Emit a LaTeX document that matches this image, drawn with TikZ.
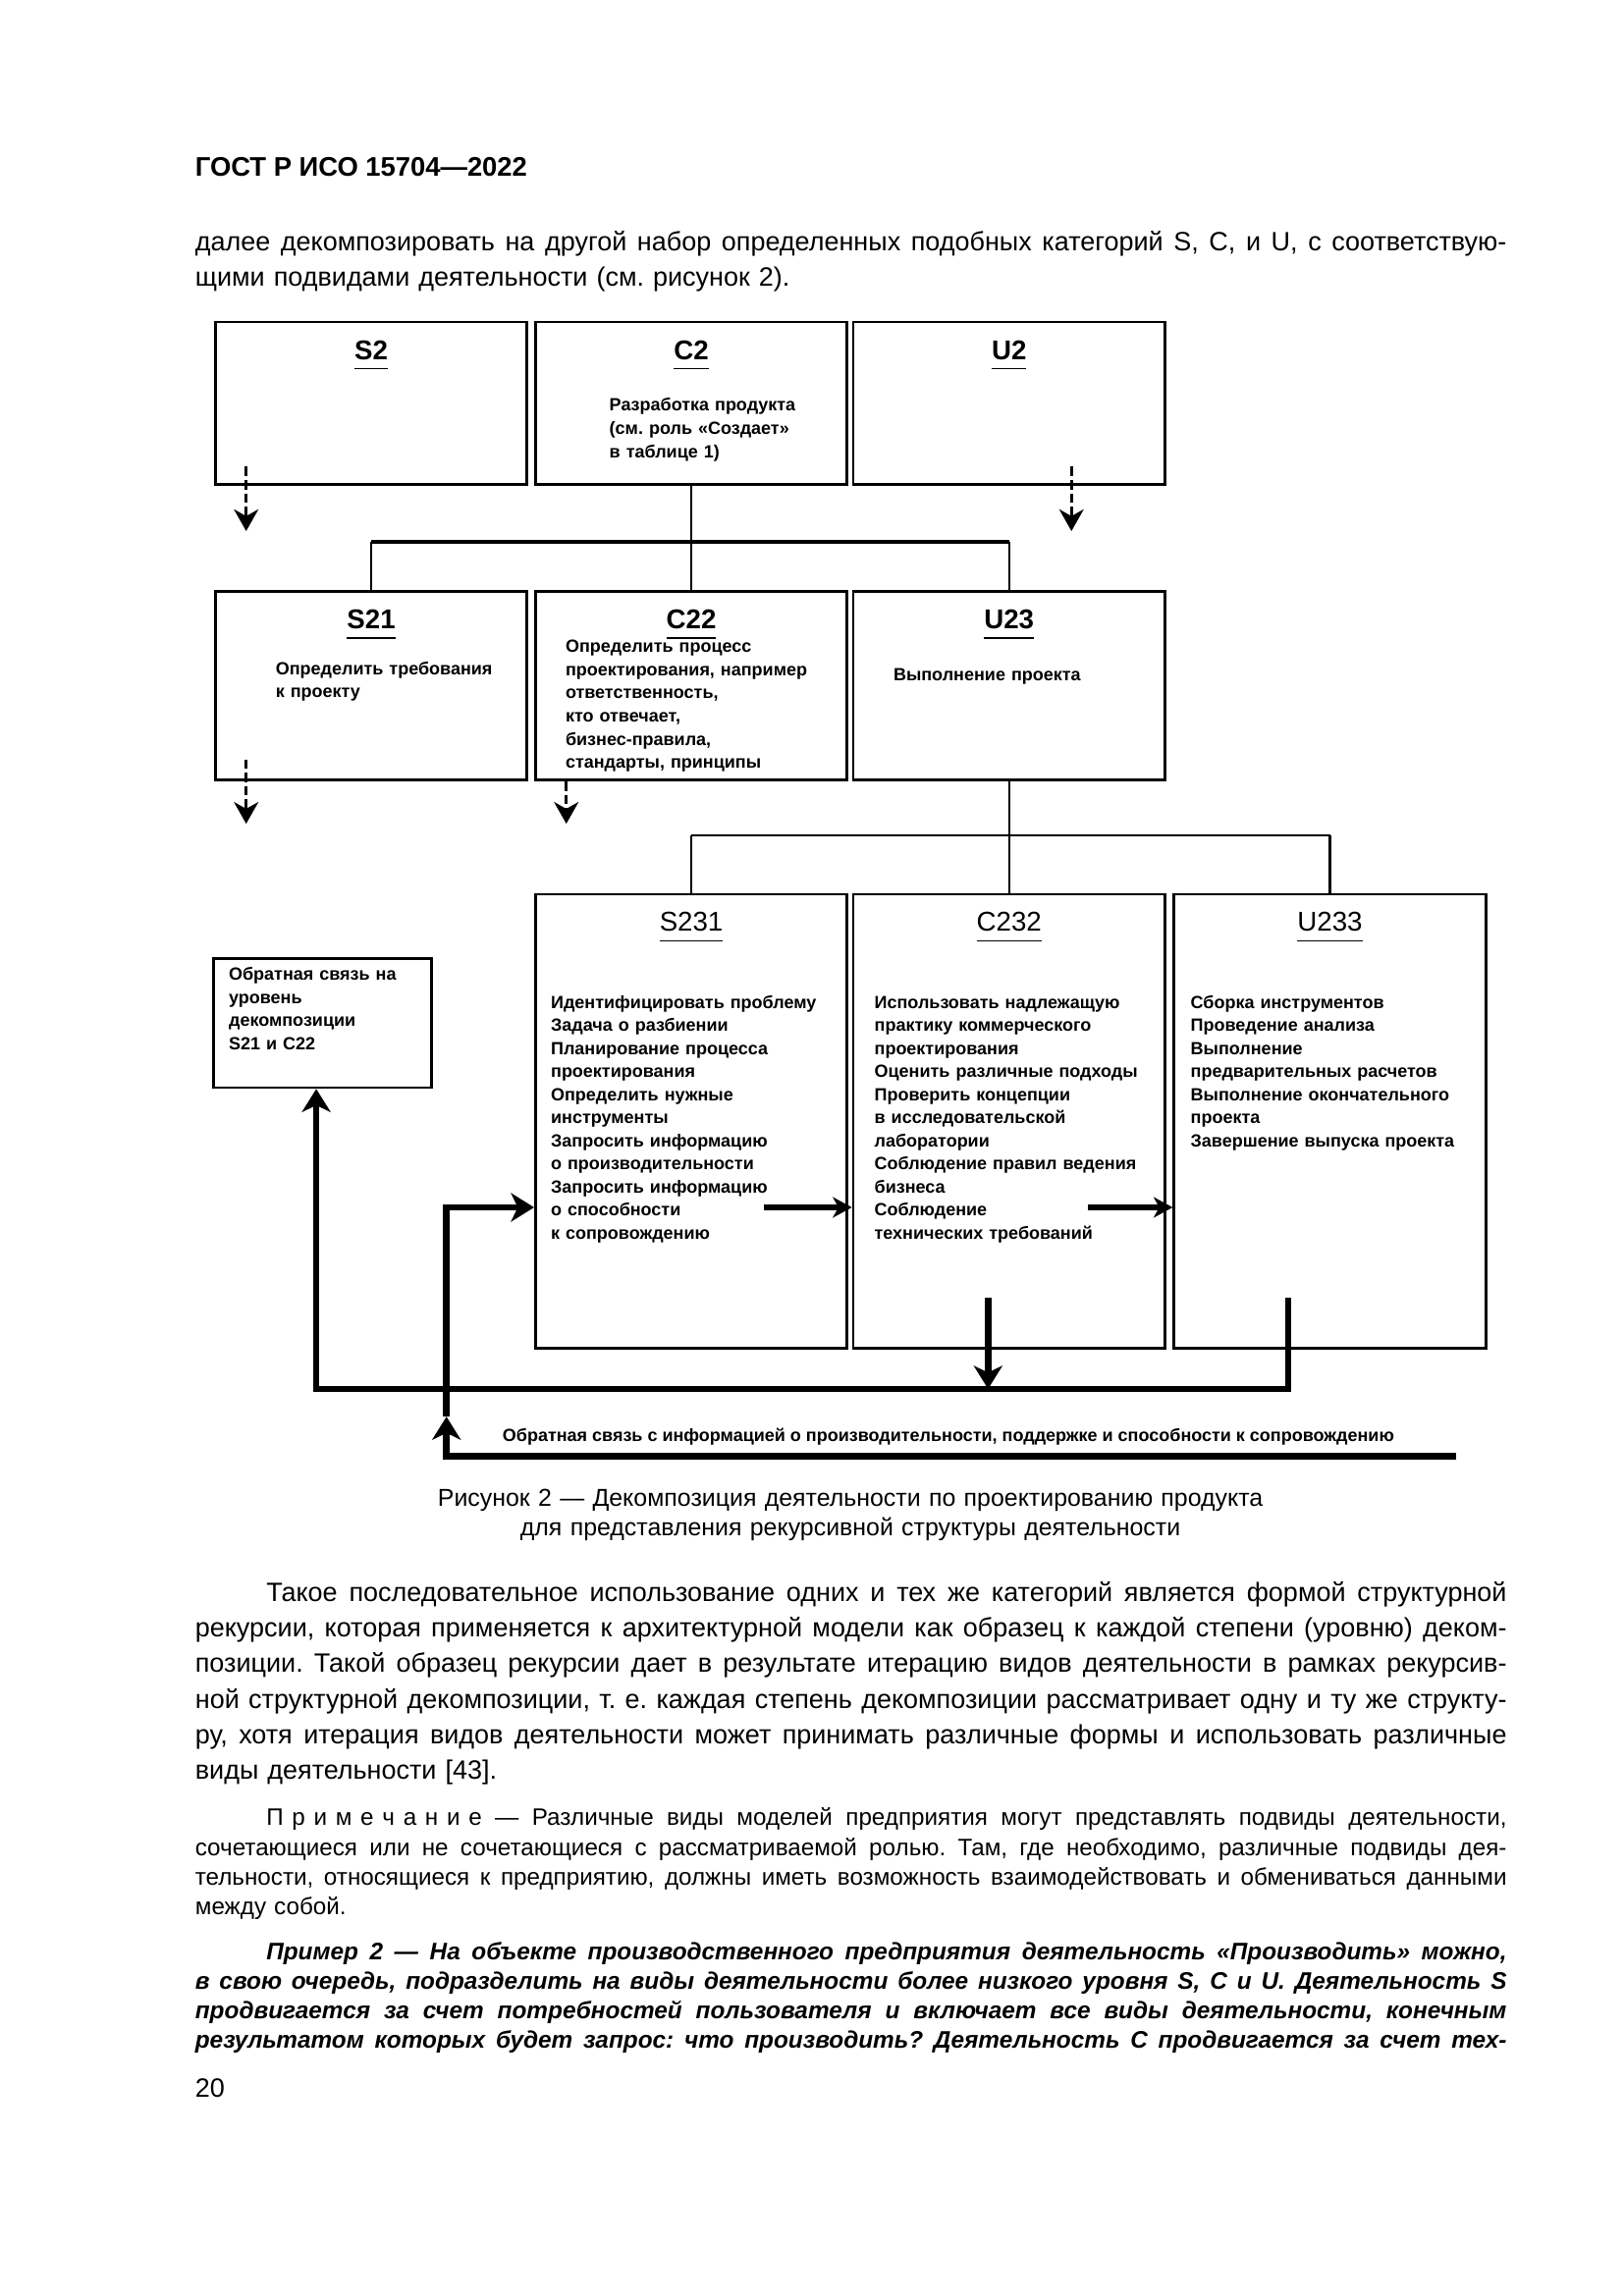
\documentclass[tikz,border=0pt]{standalone}
\usepackage{fontspec}
\setmainfont{Liberation Sans}
\usetikzlibrary{arrows.meta,positioning}
\frenchspacing

\newcommand{\boxlbl}[1]{\underline{#1\vphantom{p}}}
\newcommand{\jl}[1]{\makebox[\linewidth][s]{\spaceskip=0.278em plus 0.2em minus 0.14em\relax #1}}
\newcommand{\jli}[1]{\hspace*{0.92cm}\makebox[\dimexpr\linewidth-0.92cm\relax][s]{\spaceskip=0.278em plus 0.2em minus 0.14em\relax #1}}
\newcommand{\ls}{\hspace{0.36em}}

\begin{document}
\begin{tikzpicture}[
    blk/.style={draw, line width=1pt, minimum width=4.03cm, inner sep=0pt},
    lbl/.style={anchor=base, inner sep=0pt, font=\bfseries\fontsize{10}{12}\selectfont},
    inbox/.style={anchor=base west, align=left, text width=3.95cm, inner sep=0pt, font=\bfseries\fontsize{6.5}{8.5}\selectfont},
    txt/.style={anchor=base west, inner sep=0pt, text width=16.96cm, align=left, font=\fontsize{9.75}{13.1}\selectfont},
    dsh/.style={dash pattern=on 3.5pt off 1.4pt, line width=1pt, -{Stealth[length=8pt,width=9pt,inset=2.5pt]}},
    fb/.style={line width=2.4pt, -{Stealth[length=8.5pt,width=10.5pt,inset=2.5pt]}},
    fbs/.style={line width=2pt, -{Stealth[length=7pt,width=7.5pt,inset=2pt]}}
    ]
    \fill [white] (0,0) rectangle (21,-29.7);
    \useasboundingbox (0,0) rectangle (21,-29.7);

    % page text above the figure
    \node (hdr) [anchor=base west, inner sep=0pt, font=\bfseries\fontsize{9.9}{12}\selectfont] at (2.518,-2.283) {ГОСТ Р ИСО 15704—2022};
    \node (par1) [txt] at (2.518,-3.245) {\jl{далее декомпозировать на другой набор определенных подобных категорий S, C, и U, с соответствую-}\\
        щими подвидами деятельности (см. рисунок 2).};

    % first level
    \node (s2) [blk, minimum height=2.10cm] at (4.80,-5.215) {};
    \node (c2) [blk, minimum height=2.10cm] at (8.94,-5.215) {};
    \node (u2) [blk, minimum height=2.10cm] at (13.05,-5.215) {};
    \node (s2l) [lbl] at ([yshift=-0.5cm]s2.north) {\boxlbl{S2}};
    \node (c2l) [lbl] at ([yshift=-0.5cm]c2.north) {\boxlbl{C2}};
    \node (u2l) [lbl] at ([yshift=-0.5cm]u2.north) {\boxlbl{U2}};
    \node (c2t) [inbox] at (7.875,-5.320) {Разработка продукта\\(см. роль «Создает»\\в таблице 1)};

    % second level
    \node (s21) [blk, minimum height=2.44cm] at (4.80,-8.869) {};
    \node (c22) [blk, minimum height=2.44cm] at (8.94,-8.869) {};
    \node (u23) [blk, minimum height=2.44cm] at (13.05,-8.869) {};
    \node (s21l) [lbl] at ([yshift=-0.5cm]s21.north) {\boxlbl{S21}};
    \node (c22l) [lbl] at ([yshift=-0.5cm]c22.north) {\boxlbl{C22}};
    \node (u23l) [lbl] at ([yshift=-0.5cm]u23.north) {\boxlbl{U23}};
    \node (s21t) [inbox] at (3.559,-8.727) {Определить требования\\к проекту};
    \node (c22t) [inbox] at (7.307,-8.443) {Определить процесс\\проектирования, например\\ответственность,\\кто отвечает,\\бизнес-правила,\\стандарты, принципы};
    \node (u23t) [inbox] at (11.548,-8.803) {Выполнение проекта};

    % third level
    \node (s231) [blk, minimum height=5.87cm] at (8.94,-14.501) {};
    \node (c232) [blk, minimum height=5.87cm] at (13.05,-14.501) {};
    \node (u233) [blk, minimum height=5.87cm] at (17.199,-14.501) {};
    \node (s231l) [lbl, font=\fontsize{10}{12}\selectfont] at ([yshift=-0.5cm]s231.north) {\boxlbl{S231}};
    \node (c232l) [lbl, font=\fontsize{10}{12}\selectfont] at ([yshift=-0.5cm]c232.north) {\boxlbl{C232}};
    \node (u233l) [lbl, font=\fontsize{10}{12}\selectfont] at ([yshift=-0.5cm]u233.north) {\boxlbl{U233}};
    \node (s231t) [inbox] at (7.118,-13.043) {Идентифицировать проблему\\Задача о разбиении\\Планирование процесса\\проектирования\\Определить нужные\\инструменты\\Запросить информацию\\о производительности\\Запросить информацию\\о способности\\к сопровождению};
    \node (c232t) [inbox] at (11.302,-13.043) {Использовать надлежащую\\практику коммерческого\\проектирования\\Оценить различные подходы\\Проверить концепции\\в исследовательской\\лаборатории\\Соблюдение правил ведения\\бизнеса\\Соблюдение\\технических требований};
    \node (u233t) [inbox] at (15.391,-13.043) {Сборка инструментов\\Проведение анализа\\Выполнение\\предварительных расчетов\\Выполнение окончательного\\проекта\\Завершение выпуска проекта};

    % feedback box
    \node (fbk) [blk, minimum width=2.82cm, minimum height=1.67cm] at (4.174,-13.233) {};
    \node (fbkt) [inbox, text width=2.6cm] at (2.953,-12.684) {Обратная связь на\\уровень\\декомпозиции\\S21 и C22};

    % tree lines
    \coordinate (j1) at (8.94,-7.004);
    \coordinate (j2) at (13.05,-10.810);
    \draw [line width=0.8pt] (c2.south) -- (j1);
    \draw [line width=1.4pt] (s21.north |- j1) -- (u23.north |- j1);
    \draw [line width=0.8pt] (s21.north |- j1) -- (s21.north);
    \draw [line width=0.8pt] (j1) -- (c22.north);
    \draw [line width=0.8pt] (u23.north |- j1) -- (u23.north);
    \draw [line width=0.8pt] (u23.south) -- (j2);
    \draw [line width=0.8pt] (s231.north |- j2) -- (u233.north |- j2);
    \draw [line width=0.8pt] (s231.north |- j2) -- (s231.north);
    \draw [line width=0.8pt] (j2) -- (c232.north);
    \draw [line width=0.8pt] (u233.north |- j2) -- (u233.north);

    % dashed stubs
    \draw [dsh] ([xshift=0.416cm,yshift=0.246cm]s2.south west) -- ([xshift=0.416cm,yshift=-0.587cm]s2.south west);
    \draw [dsh] ([xshift=2.839cm,yshift=0.246cm]u2.south west) -- ([xshift=2.839cm,yshift=-0.587cm]u2.south west);
    \draw [dsh] ([xshift=0.416cm,yshift=0.284cm]s21.south west) -- ([xshift=0.416cm,yshift=-0.549cm]s21.south west);
    \draw [dsh] ([xshift=0.416cm]c22.south west) -- ([xshift=0.416cm,yshift=-0.549cm]c22.south west);

    % feedback loops
    \coordinate (fbL) at (4.09,-17.966);
    \coordinate (fbR) at (18.836,-18.836);
    \coordinate (fbM) at (5.774,-18.325);
    \coordinate (fbI) at (5.774,-15.618);
    \coordinate (a1) at (9.882,-15.618);
    \coordinate (a2) at (14.066,-15.618);
    \draw [fb] ([xshift=-0.54cm,yshift=0.662cm]u233.south) |- (fbL) -- (fbL |- fbk.south);
    \draw [fb] ([xshift=-0.272cm,yshift=0.662cm]c232.south) -- ([xshift=-0.272cm]c232.south |- fbL);
    \draw [fb] (fbR) -| (fbM);
    \draw [fb] (fbM) -- (fbI) -- (s231.west |- fbI);
    \draw [fbs] (a1) -- (c232.west |- a1);
    \draw [fbs] (a2) -- (u233.west |- a2);
    \node (fbt) [anchor=base west, inner sep=0pt, font=\bfseries\fontsize{6.5}{8}\selectfont] at (6.493,-18.647) {Обратная связь с информацией о производительности, поддержке и способности к сопровождению};

    % caption
    \node (cap) [anchor=base, text width=16.96cm, align=center, inner sep=0pt, font=\fontsize{9}{10.86}\selectfont] at (10.997,-19.48) {Рисунок 2 — Декомпозиция деятельности по проектированию продукта\\для представления рекурсивной структуры деятельности};

    % page text below the figure
    \node (par2) [txt] at (2.518,-20.715) {\jli{Такое последовательное использование одних и тех же категорий является формой структурной}\\
        \jl{рекурсии, которая применяется к архитектурной модели как образец к каждой степени (уровню) деком-}\\
        \jl{позиции. Такой образец рекурсии дает в результате итерацию видов деятельности в рамках рекурсив-}\\
        \jl{ной структурной декомпозиции, т. е. каждая степень декомпозиции рассматривает одну и ту же структу-}\\
        \jl{ру, хотя итерация видов деятельности может принимать различные формы и использовать различные}\\
        виды деятельности [43].};
    \node (note) [txt, font=\fontsize{8.75}{10.86}\selectfont] at (2.518,-23.617) {\jli{П\ls р\ls и\ls м\ls е\ls ч\ls а\ls н\ls и\ls е — Различные виды моделей предприятия могут представлять подвиды деятельности,}\\
        \jl{сочетающиеся или не сочетающиеся с рассматриваемой ролью. Там, где необходимо, различные подвиды дея-}\\
        \jl{тельности, относящиеся к предприятию, должны иметь возможность взаимодействовать и обмениваться данными}\\
        между собой.};
    \node (expl) [txt, font=\bfseries\itshape\fontsize{8.8}{10.86}\selectfont] at (2.518,-25.354) {\jli{Пример 2 — На объекте производственного предприятия деятельность «Производить» можно,}\\
        \jl{в свою очередь, подразделить на виды деятельности более низкого уровня S, C и U. Деятельность S}\\
        \jl{продвигается за счет потребностей пользователя и включает все виды деятельности, конечным}\\
        \jl{результатом которых будет запрос: что производить? Деятельность С продвигается за счет тех-}};
    \node (pgno) [anchor=base west, inner sep=0pt, font=\fontsize{9.75}{12}\selectfont] at (2.518,-27.130) {20};
\end{tikzpicture}
\end{document}
